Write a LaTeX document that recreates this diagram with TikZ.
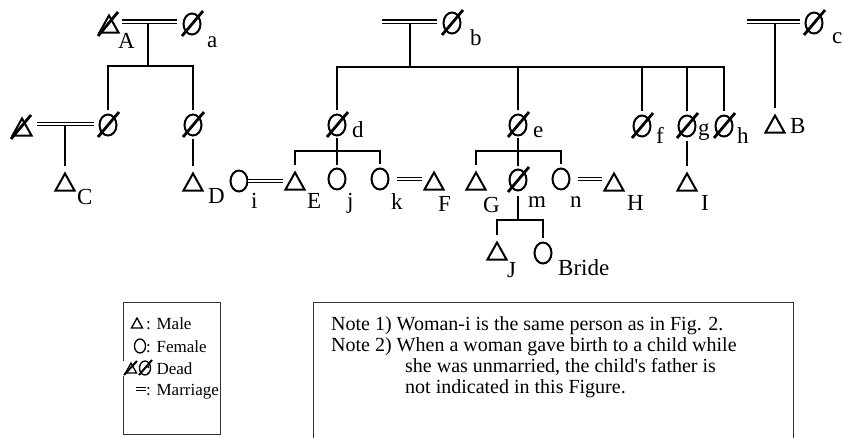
\documentclass[tikz,border=0pt]{standalone}
\usepackage{fontspec}
\setmainfont{Liberation Serif}[Ligatures=TeXOff]
\usetikzlibrary{shapes.geometric,calc}
\begin{document}
\begin{tikzpicture}[x=1pt,y=-1pt,
  male/.style={rectangle,minimum width=25pt,minimum height=23pt,inner sep=0pt,outer sep=0pt,fill=white,
    path picture={\draw[line width=2pt,line join=miter]
      ([shift={(3pt,3pt)}]path picture bounding box.south west) --
      ([shift={(0pt,-3pt)}]path picture bounding box.north) --
      ([shift={(-3pt,3pt)}]path picture bounding box.south east) -- cycle;}},
  female/.style={ellipse,draw,line width=2pt,minimum width=17pt,minimum height=21pt,inner sep=0pt,outer sep=0pt},
  smale/.style={rectangle,minimum width=16pt,minimum height=15pt,inner sep=0pt,outer sep=0pt,fill=white,
    path picture={\draw[line width=1.3pt,line join=miter]
      ([shift={(2.5pt,2.5pt)}]path picture bounding box.south west) --
      ([shift={(0pt,-2.5pt)}]path picture bounding box.north) --
      ([shift={(-2.5pt,2.5pt)}]path picture bounding box.south east) -- cycle;}},
  sfemale/.style={ellipse,draw,line width=1.3pt,minimum width=11pt,minimum height=14pt,inner sep=0pt,outer sep=0pt},
  slash/.style={line width=2.8pt},
  sslash/.style={line width=2pt},
  tree/.style={line width=1.8pt},
  marr/.style={double,double distance=2pt,line width=1.1pt},
  smarr/.style={double,double distance=1.6pt,line width=0.9pt},
  lab/.style={font=\fontsize{23}{27}\selectfont,inner sep=0pt,anchor=base west},
  leg/.style={font=\fontsize{17}{20}\selectfont,inner sep=0pt,anchor=base west},
  note/.style={font=\fontsize{20}{21}\selectfont,inner sep=0pt,anchor=base west},
  box/.style={line width=1pt,draw=black!80}]
\fill[white] (0,0) rectangle (843,437);
\useasboundingbox (0,0) rectangle (843,437);

% ---------- persons ----------
% generation 1
\node[male]   (A) at (109,24) {};
\node[female] (a) at (192,24) {};
\node[female] (b) at (452,23) {};
\node[female] (c) at (814,23) {};
% generation 2
\node[male]   (P)  at (22,127) {};
\node[female] (Q1) at (108,125) {};
\node[female] (Q2) at (193,125) {};
\node[female] (d)  at (337,125) {};
\node[female] (e)  at (518,125) {};
\node[female] (f)  at (642,126) {};
\node[female] (g)  at (687,126) {};
\node[female] (h)  at (724,126) {};
\node[male]   (B)  at (775,124) {};
% generation 3
\node[male]   (C) at (65,182) {};
\node[male]   (D) at (193,182) {};
\node[female] (i) at (239,181) {};
\node[male]   (E) at (295,181) {};
\node[female] (j) at (337,179) {};
\node[female] (k) at (380,179) {};
\node[male]   (F) at (434,181) {};
\node[male]   (G) at (476,181) {};
\node[female] (m) at (518,180) {};
\node[female] (n) at (561,179) {};
\node[male]   (H) at (614,182) {};
\node[male]   (I) at (687,182) {};
% generation 4
\node[male]   (J)  at (497,251) {};
\node[female] (Br) at (543,253) {};

% ---------- marriages and descent ----------
% A = a
\coordinate (AaL) at (122,21.5);
\coordinate (AaR) at (177,21.5);
\draw[marr] (AaL) -- (AaR);
\coordinate (mAa) at (148,23);
\coordinate (sAa) at (148,66);
\draw[tree] (mAa) -- (sAa);
\draw[tree,shorten <=5pt,shorten >=5pt] (Q1.north) |- (sAa) -| (Q2.north);
% P = Q1
\coordinate (PQL) at (37,124);
\coordinate (PQR) at (94,124);
\draw[marr] (PQL) -- (PQR);
\coordinate (mPQ) at (65,125.5);
\draw[tree,shorten >=5pt] (mPQ) -- (C.north);
% Q2 -> D
\draw[tree,shorten <=3pt,shorten >=5pt] (Q2.south) -- (D.north);
% i = E
\draw[marr] (i.east) -- (i.east -| E.west);
% b
\coordinate (bL) at (382,21.5);
\draw[marr] (bL) -- ([shift={(-15,-1.5)}]b.center);
\coordinate (mb) at (410,23);
\coordinate (sb) at (410,67);
\draw[tree] (mb) -- (sb);
\draw[tree,shorten <=5pt,shorten >=5pt] (d.north) |- (sb) -| (h.north);
\foreach \n in {e,f,g} \draw[tree,shorten <=5pt] (\n.north) -- (\n.north |- sb);
% d's children
\coordinate (sd) at (337,151);
\draw[tree,shorten <=2pt] (d.south) -- (sd);
\draw[tree,shorten <=5pt,shorten >=5pt] (E.north) |- (sd) -| (k.north);
\draw[tree,shorten <=4pt] (j.north) -- (j.north |- sd);
% k = F
\draw[marr,shorten <=8pt] (k.east) -- (k.east -| F.west);
% e's children
\coordinate (se) at (518,151);
\draw[tree,shorten <=2pt] (e.south) -- (se);
\draw[tree,shorten <=5pt,shorten >=5pt] (G.north) |- (se) -| (n.north);
\draw[tree,shorten <=4pt] (m.north) -- (m.north |- se);
% n = H
\draw[marr,shorten <=8.5pt] (n.east) -- (n.east -| H.west);
% g -> I
\draw[tree,shorten <=4pt,shorten >=5pt] (g.south) -- (I.north);
% m's children
\coordinate (sm) at (518,220);
\draw[tree,shorten <=5pt] (m.south) -- (sm);
\draw[tree,shorten <=5pt,shorten >=5pt] (J.north) |- (sm) -| (Br.north);
% c
\coordinate (cL) at (747,21.5);
\draw[marr] (cL) -- ([shift={(-14,-1.5)}]c.center);
\coordinate (mc) at (775,23);
\draw[tree,shorten >=5pt] (mc) -- (B.north);

% ---------- dead marks ----------
\foreach \n in {A,P}
  \draw[slash] ([shift={(-11,12)}]\n.center) -- ([shift={(9,-12)}]\n.center);
\foreach \n in {a,b,c,Q1,Q2,d,e,f,g,h,m}
  \draw[slash] ([shift={(-10,12)}]\n.center) -- ([shift={(11,-13)}]\n.center);

% ---------- labels ----------
\node[lab] (lA) at (118,48) {A};
\node[lab] (la) at (207,47) {a};
\node[lab] (lb) at (470,45) {b};
\node[lab] (lc) at (832,43) {c};
\node[lab] (ld) at (352,137) {d};
\node[lab] (le) at (533,137) {e};
\node[lab] (lf) at (656,143) {f};
\node[lab] (lg) at (698,135) {g};
\node[lab] (lh) at (737,143) {h};
\node[lab] (lB) at (790,133) {B};
\node[lab] (lC) at (77,204) {C};
\node[lab] (lD) at (208,203) {D};
\node[lab] (li) at (251,208) {i};
\node[lab] (lE) at (307,208) {E};
\node[lab] (lj) at (347,208) {j};
\node[lab] (lk) at (391,209) {k};
\node[lab] (lF) at (438,211) {F};
\node[lab] (lG) at (483,212) {G};
\node[lab] (lm) at (528,207) {m};
\node[lab] (ln) at (570,207) {n};
\node[lab] (lH) at (627,210) {H};
\node[lab] (lI) at (701,210) {I};
\node[lab] (lJ) at (507,277) {J};
\node[lab] (lBr) at (558,275) {Bride};

% ---------- legend ----------
\draw[box] (123,302) rectangle (220,434);
\node[smale]   (Lm)  at (137,323) {};
\node[leg]     (Lmt) at (146,329) {: Male};
\node[sfemale] (Lf)  at (140,346) {};
\node[leg]     (Lft) at (146,352) {: Female};
\node[smale]   (Ld1) at (131,368) {};
\node[sfemale] (Ld2) at (145,368) {};
\draw[sslash] ([shift={(-7,7)}]Ld1.center) -- ([shift={(6,-7)}]Ld1.center);
\draw[sslash] ([shift={(-6,7)}]Ld2.center) -- ([shift={(7,-8)}]Ld2.center);
\node[leg]     (Ldt) at (146,374) {: Dead};
\coordinate (LmL) at (136,389);
\coordinate (LmR) at (146,389);
\draw[smarr] (LmL) -- (LmR);
\node[leg]     (Lrt) at (146,395) {: Marriage};

% ---------- notes ----------
\draw[box] (313,445) -- (313,302) -- (793,302) -- (793,445);
\node[note] (n1) at (331,330) {Note 1) Woman-i is the same person as in Fig. 2.};
\node[note] (n2) at (331,351) {Note 2) When a woman gave birth to a child while};
\node[note] (n3) at (405,372) {she was unmarried, the child's father is};
\node[note] (n4) at (405,393) {not indicated in this Figure.};
\end{tikzpicture}
\end{document}
